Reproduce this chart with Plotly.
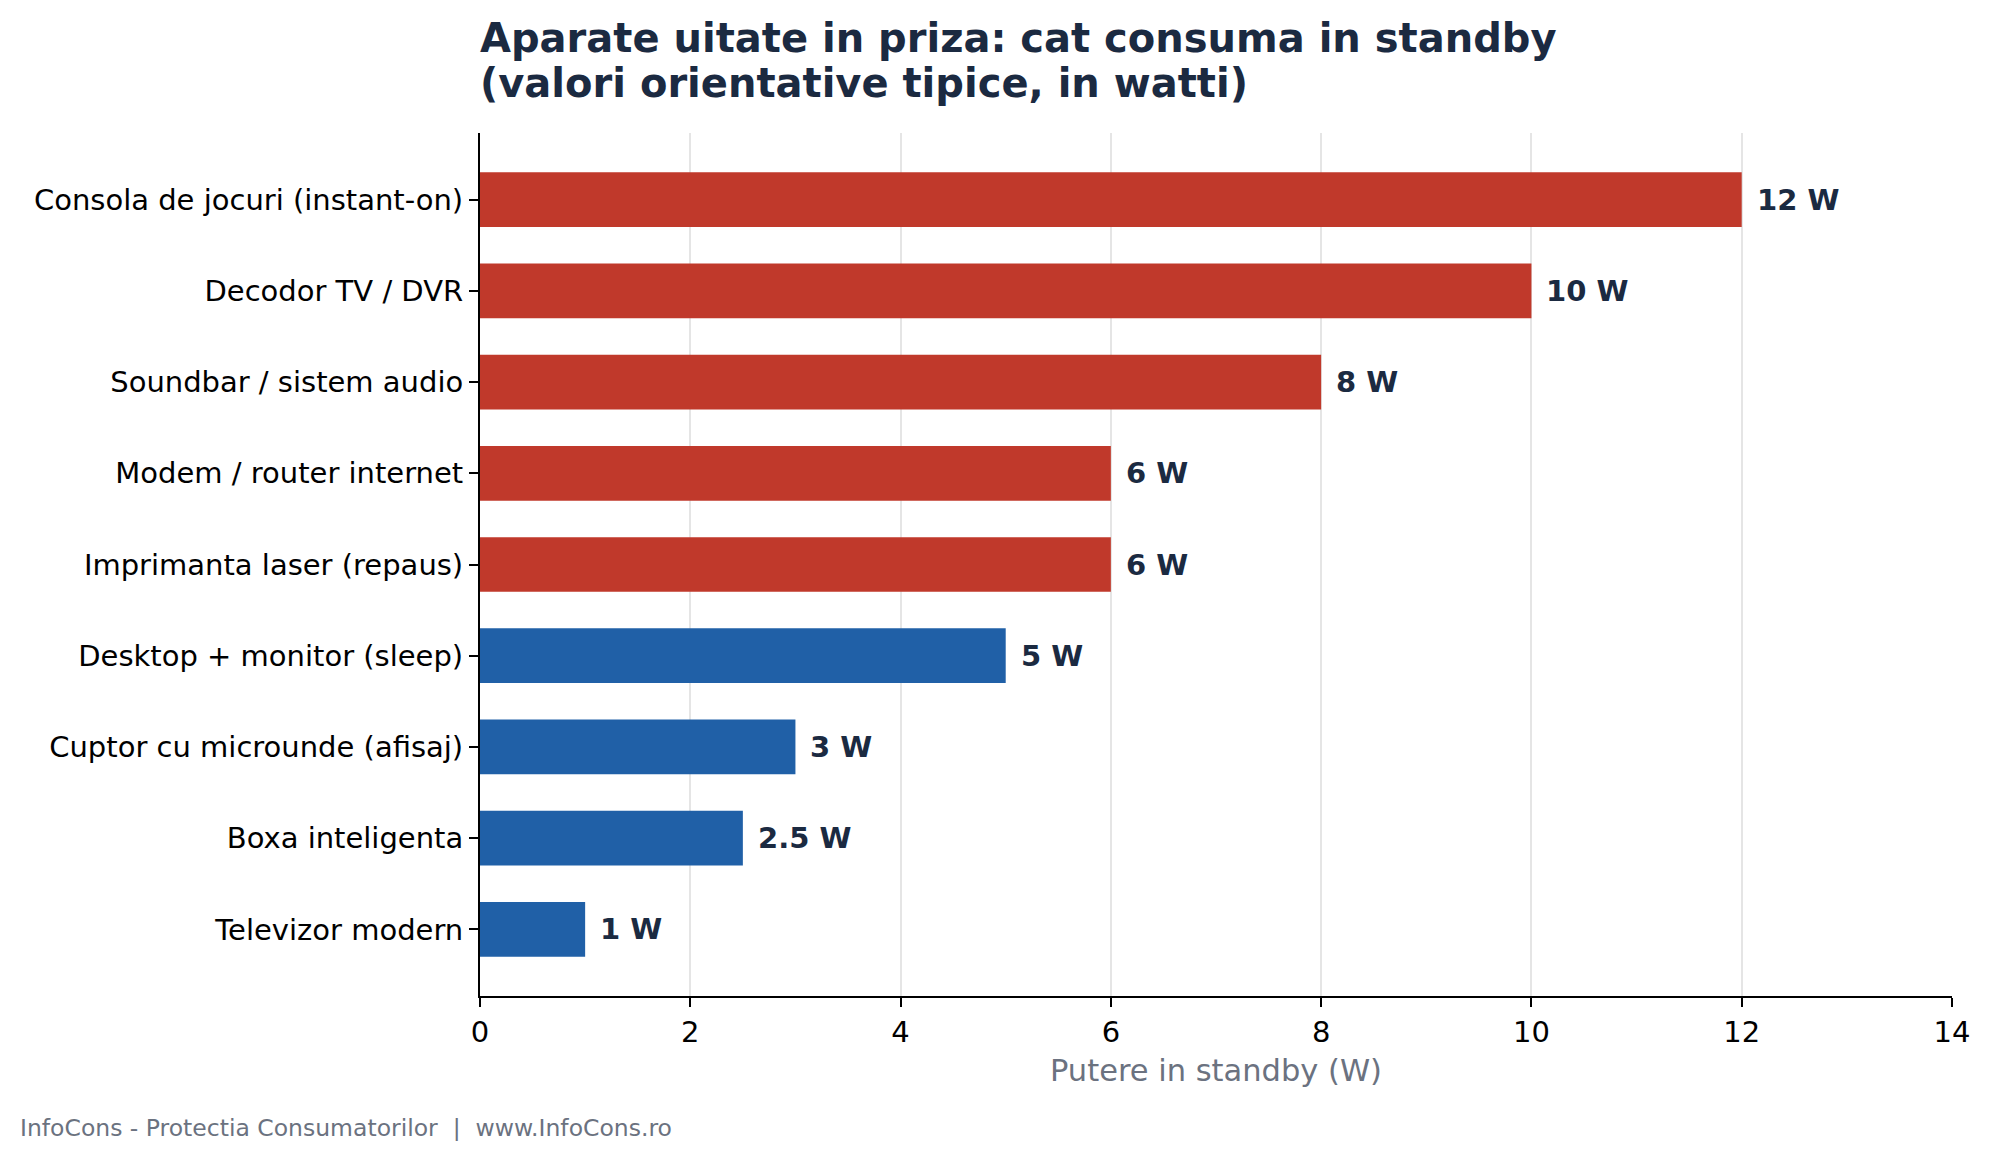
import plotly.graph_objects as go

# data, top to bottom as in the chart
devices = [
    "Consola de jocuri (instant-on)",
    "Decodor TV / DVR",
    "Soundbar / sistem audio",
    "Modem / router internet",
    "Imprimanta laser (repaus)",
    "Desktop + monitor (sleep)",
    "Cuptor cu microunde (afisaj)",
    "Boxa inteligenta",
    "Televizor modern",
]
standby_w = [12, 10, 8, 6, 6, 5, 3, 2.5, 1]
value_labels = ["12 W", "10 W", "8 W", "6 W", "6 W", "5 W", "3 W", "2.5 W", "1 W"]
x_ticks = [0, 2, 4, 6, 8, 10, 12, 14]

TITLE_LINES = [
    "Aparate uitate in priza: cat consuma in standby",
    "(valori orientative tipice, in watti)",
]
X_TITLE = "Putere in standby (W)"
FOOTER = "InfoCons - Protectia Consumatorilor  |  www.InfoCons.ro"

RED = "#c0392b"
BLUE = "#2060a7"
NAVY = "#1b2a41"
GREY = "#6b7280"
FONT = "DejaVu Sans"

W, H = 1990, 1164
L, R, T, B = 480, 38, 133, 168
plot_w = W - L - R
plot_h = H - T - B


def px_x(px):
    return (px - L) / plot_w


def px_y(py):
    return ((H - B) - py) / plot_h


colors = [RED if v >= 6 else BLUE for v in standby_w]

fig = go.Figure()
fig.add_trace(
    go.Bar(
        x=standby_w,
        y=devices,
        orientation="h",
        marker_color=colors,
        marker_line_width=0,
        width=0.6,
        hoverinfo="x+y",
    )
)

# value labels right of each bar
for dev, v, lab in zip(devices, standby_w, value_labels):
    fig.add_annotation(
        x=v,
        y=dev,
        text="<b>%s</b>" % lab,
        showarrow=False,
        xanchor="left",
        yanchor="middle",
        xshift=13,
        font=dict(family=FONT, size=29, color=NAVY),
    )

# title, two lines
for line, yc in zip(TITLE_LINES, [38, 83]):
    fig.add_annotation(
        x=px_x(L - 2),
        y=px_y(yc),
        xref="paper",
        yref="paper",
        text="<b>%s</b>" % line,
        showarrow=False,
        xanchor="left",
        yanchor="middle",
        font=dict(family=FONT, size=40, color=NAVY),
    )

# footer
fig.add_annotation(
    x=px_x(18),
    y=px_y(1128),
    xref="paper",
    yref="paper",
    text=FOOTER,
    showarrow=False,
    xanchor="left",
    yanchor="middle",
    font=dict(family=FONT, size=23.5, color=GREY),
)

fig.update_layout(
    width=W,
    height=H,
    margin=dict(l=L, r=R, t=T, b=B, autoexpand=False),
    paper_bgcolor="white",
    plot_bgcolor="white",
    showlegend=False,
    bargap=0.4,
    font=dict(family=FONT, color="black"),
)

fig.update_xaxes(
    range=[0, 14],
    tickvals=x_ticks,
    ticks="outside",
    ticklen=9,
    tickwidth=2,
    tickcolor="black",
    tickfont=dict(family=FONT, size=29, color="black"),
    showline=True,
    linecolor="black",
    linewidth=2,
    showgrid=True,
    gridcolor="#e5e5e5",
    gridwidth=1.5,
    zeroline=False,
    title=dict(text=X_TITLE, font=dict(family=FONT, size=30.5, color=GREY), standoff=12),
)

fig.update_yaxes(
    type="category",
    categoryorder="array",
    categoryarray=devices,
    range=[len(devices) - 1 + 0.73, -0.73],
    ticks="outside",
    ticklen=9,
    tickwidth=2,
    tickcolor="black",
    tickfont=dict(family=FONT, size=29, color="black"),
    showline=True,
    linecolor="black",
    linewidth=2,
    showgrid=False,
    zeroline=False,
)

fig.write_html(
    "out.html",
    config={"displayModeBar": False},
    post_script="document.body.style.margin = '0';",
)
